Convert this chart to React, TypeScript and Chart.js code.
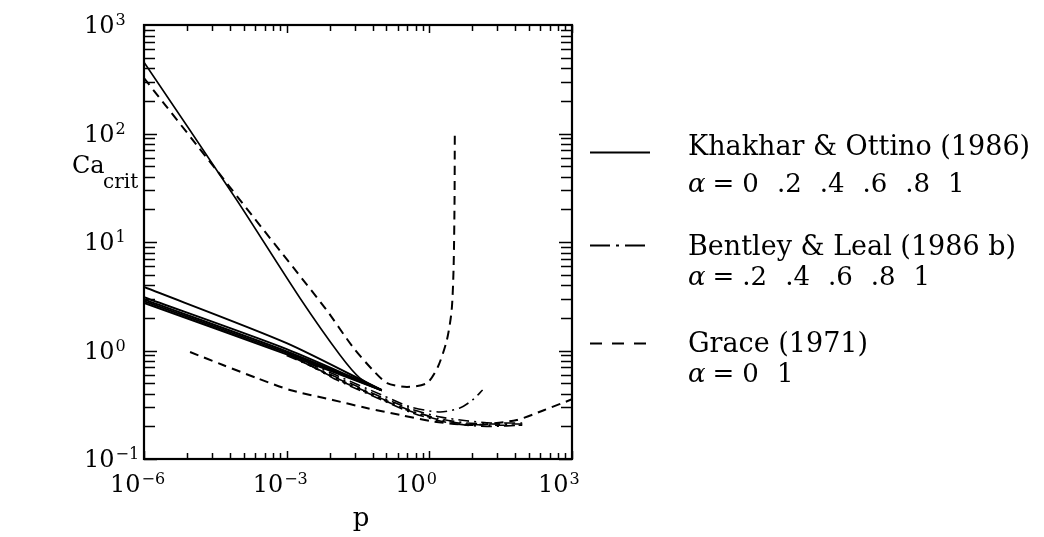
import React, { useEffect, useRef } from "react";
import { Chart, registerables } from "chart.js";

Chart.register(...registerables);

// ---- axes ----
const xMin = 1e-6;
const xMax = 1e3;
const yMin = 0.1;
const yMax = 1000;
const xLabelExponents = ["-6", "-3", "0", "3"];
const xLabelValues = [1e-6, 1e-3, 1, 1e3];
const yLabelExponents = ["-1", "0", "1", "2", "3"];
const yLabelValues = [0.1, 1, 10, 100, 1000];

// ---- Khakhar & Ottino (1986), solid, alpha = 0 .2 .4 .6 .8 1 ----
const koA0P = [1e-6, 8.9e-5, 1.9e-3, 0.0132, 0.0347, 0.1];
const koA0Ca = [453, 24.4, 3.05, 0.91, 0.558, 0.433];
const koBundleP = [1e-6, 1e-3, 0.1];
const koA02Ca = [3.85, 1.17, 0.43];
const koA04Ca = [3.1, 1.03, 0.43];
const koA06Ca = [2.95, 0.98, 0.43];
const koA08Ca = [2.85, 0.95, 0.43];
const koA1Ca = [2.75, 0.92, 0.43];

// ---- Bentley & Leal (1986 b), dash-dot, alpha = .2 .4 .6 .8 1 ----
const blA02P = [1e-3, 0.01, 0.1, 0.398, 1.66, 4.37, 8.13, 13.2];
const blA02Ca = [0.933, 0.603, 0.389, 0.302, 0.271, 0.295, 0.35, 0.433];
const blA04P = [1e-3, 0.01, 0.1, 0.4, 1.6, 6, 20, 90];
const blA04Ca = [0.9, 0.58, 0.37, 0.29, 0.245, 0.225, 0.215, 0.215];
const blA06P = [1.5e-3, 0.01, 0.1, 0.4, 1.6, 6, 20, 90];
const blA06Ca = [0.85, 0.57, 0.36, 0.28, 0.235, 0.215, 0.21, 0.21];
const blA08P = [2e-3, 0.01, 0.1, 0.4, 1.6, 6, 20, 90];
const blA08Ca = [0.8, 0.56, 0.355, 0.275, 0.23, 0.21, 0.205, 0.205];
const blA1P = [3e-3, 0.01, 0.1, 0.4, 1.6, 6, 20, 90];
const blA1Ca = [0.74, 0.55, 0.35, 0.27, 0.225, 0.205, 0.2, 0.205];

// ---- Grace (1971), dashed, alpha = 0 1 ----
const grA0P = [1e-6, 3.39e-5, 1.95e-4, 1.35e-3, 6.9e-3, 0.0245, 0.0646, 0.129, 0.339, 0.891, 1.51, 2.34, 2.95, 3.24, 3.39, 3.43];
const grA0Ca = [324, 45.7, 17.2, 5.89, 2.36, 1.08, 0.661, 0.501, 0.461, 0.501, 0.705, 1.25, 2.36, 5.89, 24.4, 100];
const grA1P = [9.3e-6, 4.57e-5, 2.34e-4, 1.17e-3, 9.3e-3, 0.0479, 0.24, 1.26, 8.1, 69, 263, 1000];
const grA1Ca = [0.968, 0.735, 0.558, 0.433, 0.35, 0.295, 0.255, 0.221, 0.206, 0.229, 0.283, 0.355];

// ---- legend ----
const legendTitles = ["Khakhar & Ottino (1986)", "Bentley & Leal (1986 b)", "Grace (1971)"];
const legendAlphas = [
  ["0", ".2", ".4", ".6", ".8", "1"],
  [".2", ".4", ".6", ".8", "1"],
  ["0", "1"],
];

const SERIF = '"DejaVu Serif", "Liberation Serif", serif';
const DASHED = [9, 6];
const DASHDOT = [11, 5, 2, 5];

const pts = (xs: number[], ys: number[]) => xs.map((x, i) => ({ x, y: ys[i] }));

const ds = (label: string, xs: number[], ys: number[], width: number, dash: number[]) => ({
  label,
  data: pts(xs, ys),
  borderColor: "#000",
  borderWidth: width,
  borderDash: dash,
  pointRadius: 0,
  fill: false,
  tension: 0.25,
});

function drawPow(ctx: CanvasRenderingContext2D, exp: string, x: number, baseline: number) {
  ctx.font = `24px ${SERIF}`;
  ctx.textAlign = "left";
  ctx.textBaseline = "alphabetic";
  ctx.fillText("10", x, baseline);
  const w = ctx.measureText("10").width;
  ctx.font = `16px ${SERIF}`;
  ctx.fillText(exp.replace("-", "\u2212"), x + w + 1, baseline - 8);
}

const decor = {
  id: "decor",
  afterDatasetsDraw(chart: any) {
    const ctx: CanvasRenderingContext2D = chart.ctx;
    const a = chart.chartArea;
    const xs = chart.scales.x;
    const ys = chart.scales.y;
    ctx.save();
    ctx.fillStyle = "#000";
    ctx.strokeStyle = "#000";
    ctx.setLineDash([]);
    // frame
    ctx.lineWidth = 2.2;
    ctx.strokeRect(a.left, a.top, a.right - a.left, a.bottom - a.top);
    // x ticks (each labelled interval subdivided like a decade)
    ctx.lineWidth = 1.5;
    ctx.beginPath();
    for (let g = 0; g < 3; g++) {
      const start = Math.log10(xLabelValues[g]);
      for (let m = 2; m <= 9; m++) {
        const px = Math.round(xs.getPixelForValue(Math.pow(10, start + 3 * Math.log10(m)))) + 0.5;
        ctx.moveTo(px, a.bottom);
        ctx.lineTo(px, a.bottom - 6);
        ctx.moveTo(px, a.top);
        ctx.lineTo(px, a.top + 6);
      }
    }
    xLabelValues.forEach((v) => {
      const px = Math.round(xs.getPixelForValue(v)) + 0.5;
      ctx.moveTo(px, a.bottom);
      ctx.lineTo(px, a.bottom - 8);
      ctx.moveTo(px, a.top);
      ctx.lineTo(px, a.top + 8);
    });
    // y ticks
    for (let k = -1; k <= 2; k++) {
      for (let m = 1; m <= 9; m++) {
        const py = Math.round(ys.getPixelForValue(m * Math.pow(10, k))) + 0.5;
        const len = m === 1 ? 13 : 11;
        ctx.moveTo(a.left, py);
        ctx.lineTo(a.left + len, py);
        ctx.moveTo(a.right, py);
        ctx.lineTo(a.right - len, py);
      }
    }
    ctx.stroke();

    // x tick labels
    xLabelValues.forEach((v, i) => {
      const px = xs.getPixelForValue(v);
      drawPow(ctx, xLabelExponents[i], px - 34, 492);
    });
    // y tick labels
    yLabelValues.forEach((v, i) => {
      const py = ys.getPixelForValue(v);
      drawPow(ctx, yLabelExponents[i], 84, py + 8);
    });
    // axis titles
    ctx.font = `24px ${SERIF}`;
    ctx.textAlign = "left";
    ctx.fillText("Ca", 72, 173);
    ctx.font = `20px ${SERIF}`;
    ctx.fillText("crit", 103, 188);
    ctx.font = `26px ${SERIF}`;
    ctx.textAlign = "center";
    ctx.fillText("p", 361, 526);

    // legend
    const sampleY = [152, 245, 343];
    const titleY = [155, 255, 352];
    const alphaY = [192, 285, 382];
    const dashes = [[], [20, 6, 3, 6], [12, 10]];
    for (let i = 0; i < 3; i++) {
      ctx.lineWidth = 2;
      ctx.setLineDash(dashes[i]);
      ctx.beginPath();
      ctx.moveTo(590, sampleY[i] + 0.5);
      ctx.lineTo(650, sampleY[i] + 0.5);
      ctx.stroke();
      ctx.setLineDash([]);
      ctx.textAlign = "left";
      ctx.font = `27px ${SERIF}`;
      ctx.fillText(legendTitles[i], 688, titleY[i]);
      ctx.font = `italic 26px ${SERIF}`;
      ctx.fillText("\u03b1", 688, alphaY[i]);
      const aw = ctx.measureText("\u03b1").width;
      ctx.font = `26px ${SERIF}`;
      let cx = 688 + aw + 7;
      ctx.fillText("=", cx, alphaY[i]);
      cx += ctx.measureText("=").width + 8;
      legendAlphas[i].forEach((t) => {
        ctx.fillText(t, cx, alphaY[i]);
        cx += ctx.measureText(t).width + 18;
      });
    }
    ctx.restore();
  },
};

export default function App() {
  const ref = useRef<HTMLCanvasElement | null>(null);
  useEffect(() => {
    if (!ref.current) return;
    const chart = new Chart(ref.current, {
      type: "line",
      data: {
        datasets: [
          ds("Khakhar & Ottino α=0", koA0P, koA0Ca, 1.6, []),
          ds("Khakhar & Ottino α=.2", koBundleP, koA02Ca, 2, []),
          ds("Khakhar & Ottino α=.4", koBundleP, koA04Ca, 2, []),
          ds("Khakhar & Ottino α=.6", koBundleP, koA06Ca, 2, []),
          ds("Khakhar & Ottino α=.8", koBundleP, koA08Ca, 2, []),
          ds("Khakhar & Ottino α=1", koBundleP, koA1Ca, 2, []),
          ds("Bentley & Leal α=.2", blA02P, blA02Ca, 1.6, DASHDOT),
          ds("Bentley & Leal α=.4", blA04P, blA04Ca, 1.6, DASHDOT),
          ds("Bentley & Leal α=.6", blA06P, blA06Ca, 1.6, DASHDOT),
          ds("Bentley & Leal α=.8", blA08P, blA08Ca, 1.6, DASHDOT),
          ds("Bentley & Leal α=1", blA1P, blA1Ca, 1.6, DASHDOT),
          ds("Grace α=0", grA0P, grA0Ca, 2, DASHED),
          ds("Grace α=1", grA1P, grA1Ca, 2, DASHED),
        ],
      },
      options: {
        animation: false,
        responsive: false,
        maintainAspectRatio: false,
        layout: { padding: { left: 144, top: 25, right: 1044 - 572, bottom: 537 - 459 } },
        scales: {
          x: { type: "logarithmic", min: xMin, max: xMax, display: false },
          y: { type: "logarithmic", min: yMin, max: yMax, display: false },
        },
        plugins: { legend: { display: false }, tooltip: { enabled: false } },
        events: [],
      },
      plugins: [decor],
    });
    return () => chart.destroy();
  }, []);
  return (
    <div style={{ position: "fixed", left: 0, top: 0, width: 1044, height: 537, background: "#fff" }}>
      <canvas ref={ref} width={1044} height={537} />
    </div>
  );
}
